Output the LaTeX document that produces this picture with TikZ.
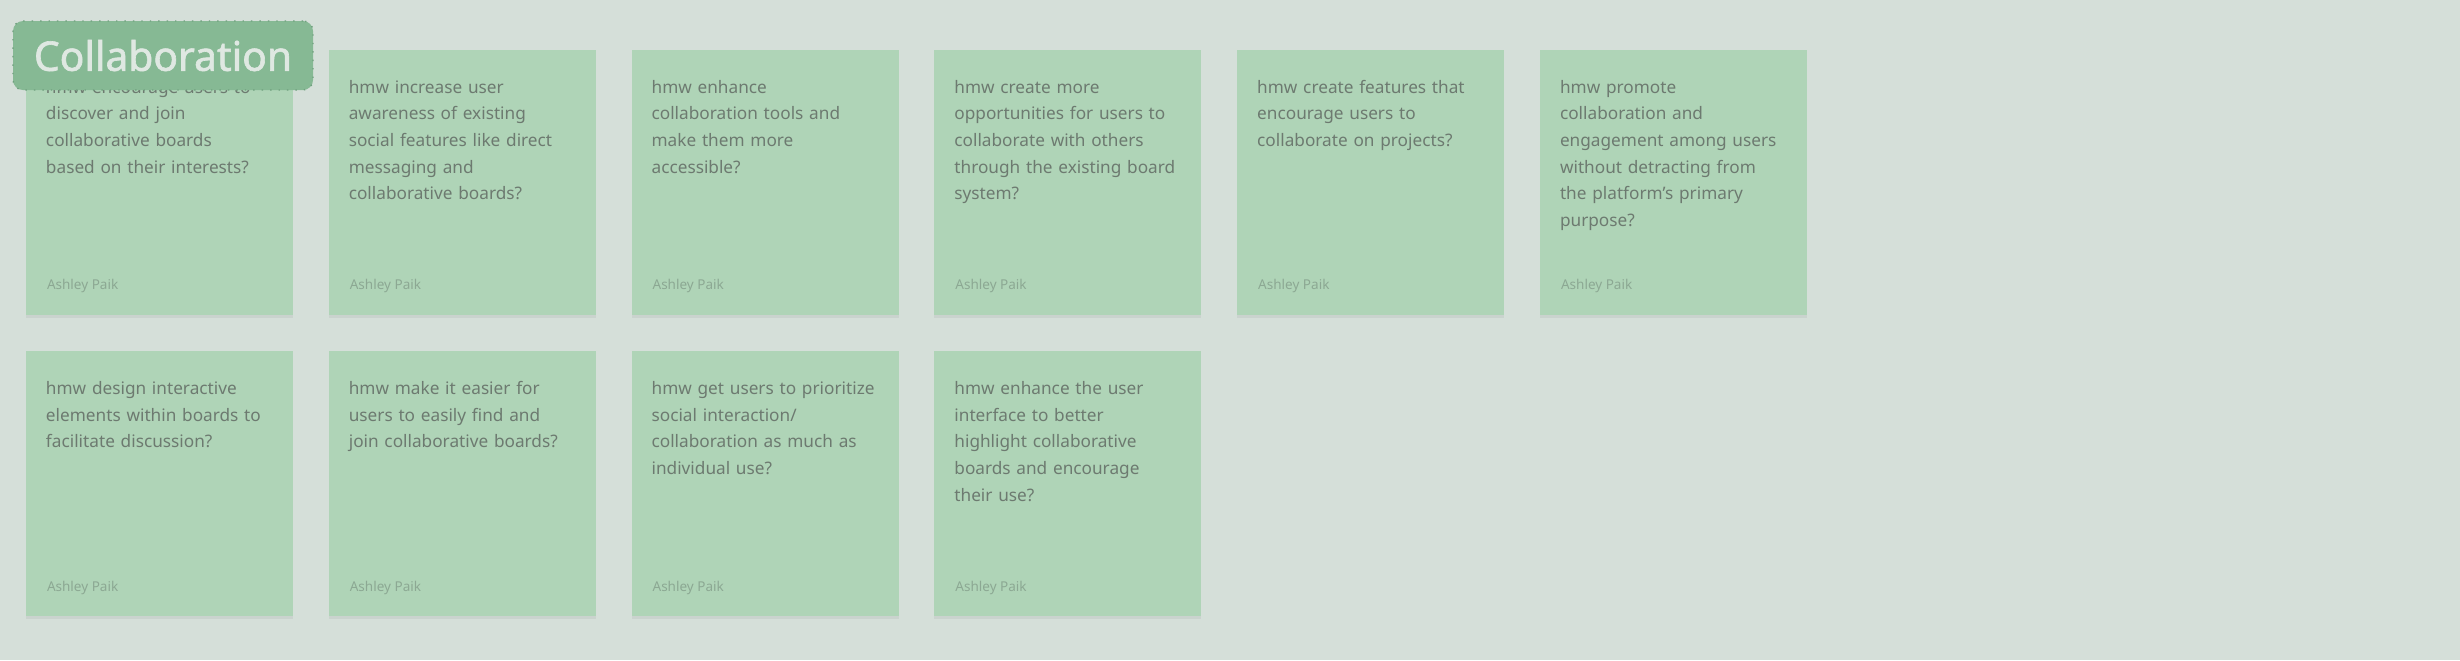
\documentclass[tikz,border=0pt]{standalone}
\usepackage{fontspec}
\setmainfont{Noto Sans}
\newfontfamily\tagfont{Noto Sans}[FakeBold=1.5]
\usetikzlibrary{positioning,shadows}
\definecolor{boardbg}{HTML}{D5DFD9}
\definecolor{stickygreen}{HTML}{AFD4B7}
\definecolor{tagfill}{HTML}{86B994}
\definecolor{tagline}{HTML}{6FA07E}
\definecolor{tagtext}{HTML}{DFE8E2}
\definecolor{notetext}{HTML}{6D7A70}
\definecolor{authortext}{HTML}{8CA893}
\hyphenpenalty=10000

\begin{document}
\begin{tikzpicture}[node distance=3.013cm and 3.028cm, on grid,
    sticky/.style={rectangle, fill=stickygreen, text width=2.27cm,
      inner xsep=0.2cm, inner ysep=0.2cm, text height=0.23cm,
      text depth=2.02cm, align=left, text=notetext,
      font=\fontsize{4.9}{7.6}\selectfont,
      drop shadow={shadow xshift=0cm, shadow yshift=-0.03cm, opacity=0.12}},
    byline/.style={anchor=base west, inner sep=0pt, text=authortext,
      font=\fontsize{3.85}{4.5}\selectfont},
    tag/.style={rectangle, rounded corners=0.1cm, fill=tagfill,
      draw=tagline, dotted, line width=0.4pt, minimum width=3cm,
      minimum height=0.69cm, inner sep=0pt, text=tagtext,
      font=\tagfont\fontsize{11.6}{14}\selectfont}]
    \useasboundingbox (0,0) rectangle (24.6,-6.6);
    \fill[boardbg] (0,0) rectangle (24.6,-6.6);
    % first row of notes
    \node[sticky] (q1) at (1.595,-1.825) {hmw encourage users to\\discover and join\\collaborative boards\\based on their interests?};
    \node[sticky] (q2) [right=of q1] {hmw increase user\\awareness of existing\\social features like direct\\messaging and\\collaborative boards?};
    \node[sticky] (q3) [right=of q2] {hmw enhance\\collaboration tools and\\make them more\\accessible?};
    \node[sticky] (q4) [right=of q3] {hmw create more\\opportunities for users to\\collaborate with others\\through the existing board\\system?};
    \node[sticky] (q5) [right=of q4] {hmw create features that\\encourage users to\\collaborate on projects?};
    \node[sticky] (q6) [right=of q5] {hmw promote\\collaboration and\\engagement among users\\without detracting from\\the platform's primary\\purpose?};
    % second row
    \node[sticky] (q7) [below=of q1] {hmw design interactive\\elements within boards to\\facilitate discussion?};
    \node[sticky] (q8) [right=of q7] {hmw make it easier for\\users to easily find and\\join collaborative boards?};
    \node[sticky] (q9) [right=of q8] {hmw get users to prioritize\\social interaction/\\collaboration as much as\\individual use?};
    \node[sticky] (q10) [right=of q9] {hmw enhance the user\\interface to better\\highlight collaborative\\boards and encourage\\their use?};
    \foreach \n in {1,...,10}
      \node[byline] (by\n) at ([xshift=0.21cm, yshift=0.26cm]q\n.south west) {Ashley Paik};
    \node[tag] (tag) at (1.63,-0.555) {Collaboration};
\end{tikzpicture}
\end{document}
